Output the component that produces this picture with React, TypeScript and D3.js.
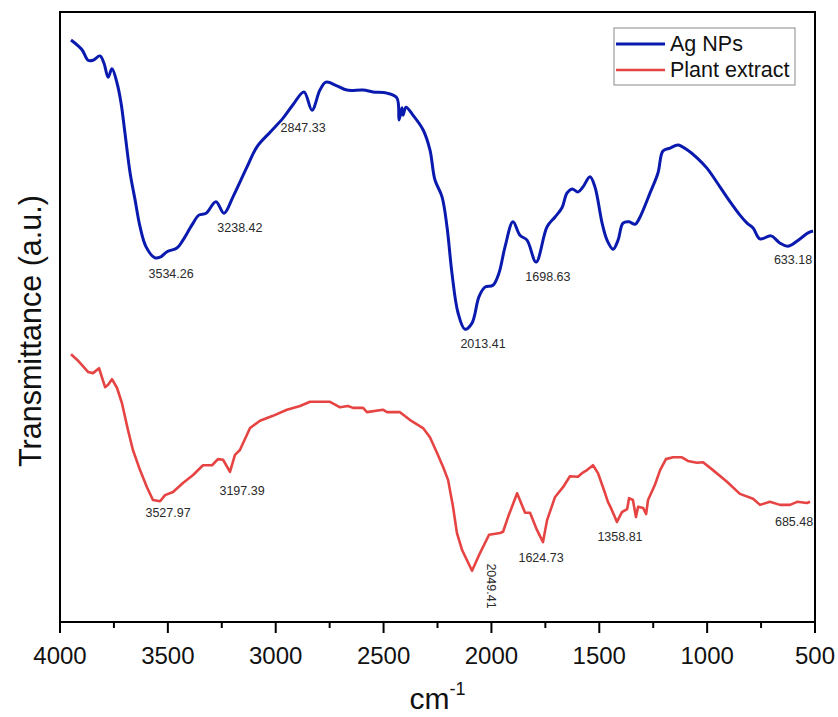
import React from "react";
import * as d3 from "d3";

// Wavenumber (cm-1) and transmittance (a.u.)
const agWave = [3949,3898,3870,3847,3815,3796,3777,3759,3736,3717,3699,3675,3652,3629,3601,3560,3536,3504,3458,3430,3388,3356,3323,3277,3240,3198,3133,3087,3026,2966,2920,2869,2832,2795,2767,2716,2670,2595,2549,2484,2438,2428,2415,2410,2396,2364,2317,2285,2262,2229,2206,2183,2155,2123,2090,2058,2030,1993,1965,1937,1900,1868,1835,1793,1742,1705,1673,1650,1626,1599,1576,1543,1520,1487,1464,1436,1413,1390,1362,1334,1311,1265,1228,1205,1172,1135,1093,1047,1001,940,894,848,815,787,755,704,662,625,570,532,509];
const agValue = [95.4,93.8,92.1,92.1,92.8,91.6,89.3,90.7,88.4,85.1,80.2,73.6,69.2,64.8,61.5,59.7,59.8,60.7,61.3,62.6,65.1,66.7,67.0,68.9,67.0,69.7,74.6,77.9,80.3,82.6,84.8,86.9,83.9,87.2,88.5,87.9,87.2,87.2,86.9,86.7,85.9,82.3,84.3,83.1,84.4,83.1,80.7,77.4,72.5,69.7,64.8,57.2,50.7,48.0,49.0,53.3,54.9,55.2,57.2,61.5,65.6,63.4,62.6,59.0,64.8,66.4,67.9,70.3,71.0,70.5,71.3,73.0,71.3,65.4,62.6,61.1,62.6,65.4,65.6,65.2,66.4,70.3,73.6,77.2,77.7,78.2,77.4,76.1,74.4,71.3,68.9,66.7,65.4,64.6,62.8,63.3,62.1,61.6,62.8,63.8,64.1];

const plantWave = [3949,3921,3898,3870,3847,3819,3791,3777,3759,3736,3713,3685,3662,3629,3597,3569,3536,3513,3476,3430,3383,3337,3295,3268,3244,3212,3189,3166,3119,3073,3013,2948,2887,2841,2748,2702,2665,2642,2595,2577,2503,2484,2424,2377,2317,2285,2252,2224,2201,2178,2160,2136,2090,2053,2011,1960,1946,1923,1881,1844,1821,1789,1761,1742,1705,1668,1636,1599,1580,1557,1529,1506,1473,1460,1446,1418,1395,1371,1362,1344,1330,1320,1297,1283,1274,1242,1218,1191,1158,1117,1089,1047,1019,973,908,848,787,755,709,662,616,583,537,523];
const plantValue = [43.9,43.0,42.1,41.0,40.8,41.6,38.5,38.9,39.8,38.4,35.9,31.5,28.2,24.9,22.1,20.0,19.8,20.8,21.3,22.8,24.1,25.7,25.7,26.7,26.6,24.6,27.4,28.2,31.8,33.0,33.8,34.8,35.4,36.1,36.1,35.2,35.4,35.1,35.1,34.4,34.8,34.4,34.4,33.1,31.8,30.3,27.7,25.4,23.3,18.9,14.6,11.8,8.4,11.3,14.3,14.6,14.8,17.2,21.1,17.9,17.9,15.1,13.1,16.7,20.5,22.1,23.9,23.8,24.4,24.9,25.7,24.4,21.1,19.7,18.7,16.4,18.0,18.5,20.3,20.0,17.2,18.9,18.7,17.7,20.0,22.5,24.9,26.7,27.0,27.0,26.4,26.1,26.2,24.9,23.0,21.0,20.2,19.2,19.7,19.2,19.2,19.7,19.5,19.7];

// Peak annotations: text, position (wavenumber, a.u.)
const agLabels = ["3534.26","3238.42","2847.33","2013.41","1698.63","633.18"];
const agLabelWave = [3485,3166,2873,2039,1738,602];
const agLabelValue = [57.0,64.4,80.8,45.4,56.4,59.3];

const plantLabels = ["3527.97","3197.39","2049.41","1624.73","1358.81","685.48"];
const plantLabelWave = [3499,3156,2007,1770,1404,597];
const plantLabelValue = [17.7,21.3,5.9,10.3,13.9,16.2];
const plantLabelRotated = [false,false,true,false,false,false];

const xTicks = [4000,3500,3000,2500,2000,1500,1000,500];
const xMinorTicks = [3750,3250,2750,2250,1750,1250,750];

const seriesNames = ["Ag NPs","Plant extract"];
const seriesColors = ["#0a1aae","#e64343"];

const W = 838, H = 717;
const M = { left: 60, right: 815, top: 12, bottom: 622 };
const FONT = "'Liberation Sans', Arial, Helvetica, sans-serif";

export default function App() {
  const x = d3.scaleLinear().domain([4000, 500]).range([M.left, M.right]);
  const y = d3.scaleLinear().domain([0, 100]).range([M.bottom, M.bottom - 610]);

  const line = d3
    .line<[number, number]>()
    .x((d) => x(d[0]))
    .y((d) => y(d[1]))
    .curve(d3.curveCatmullRom.alpha(0.5));
  const lineLin = d3
    .line<[number, number]>()
    .x((d) => x(d[0]))
    .y((d) => y(d[1]));

  const agPath = line(agWave.map((w, i) => [w, agValue[i]] as [number, number])) || "";
  const plantPath = lineLin(plantWave.map((w, i) => [w, plantValue[i]] as [number, number])) || "";

  const cx = (M.left + M.right) / 2;

  return (
    <svg
      width={W}
      height={H}
      style={{ position: "absolute", left: 0, top: 0, background: "#fff" }}
      fontFamily={FONT}
    >
      <rect x={0} y={0} width={W} height={H} fill="#fff" />
      <defs>
        <clipPath id="plotclip">
          <rect x={M.left} y={M.top} width={M.right - M.left} height={M.bottom - M.top} />
        </clipPath>
      </defs>

      <g clipPath="url(#plotclip)">
        <path d={agPath} fill="none" stroke={seriesColors[0]} strokeWidth={3} strokeLinejoin="round" />
        <path d={plantPath} fill="none" stroke={seriesColors[1]} strokeWidth={2.6} strokeLinejoin="round" />
      </g>

      {/* annotations */}
      {agLabels.map((t, i) => (
        <text
          key={"a" + t}
          x={x(agLabelWave[i])}
          y={y(agLabelValue[i])}
          fontSize={12.5}
          fill="#2a2a2a"
          textAnchor="middle"
          dominantBaseline="middle"
        >
          {t}
        </text>
      ))}
      {plantLabels.map((t, i) =>
        plantLabelRotated[i] ? (
          <text
            key={"p" + t}
            transform={`translate(${x(plantLabelWave[i])},${y(plantLabelValue[i])}) rotate(90)`}
            fontSize={12.5}
            fill="#2a2a2a"
            textAnchor="middle"
            dominantBaseline="middle"
          >
            {t}
          </text>
        ) : (
          <text
            key={"p" + t}
            x={x(plantLabelWave[i])}
            y={y(plantLabelValue[i])}
            fontSize={12.5}
            fill="#2a2a2a"
            textAnchor="middle"
            dominantBaseline="middle"
          >
            {t}
          </text>
        )
      )}

      {/* frame */}
      <rect
        x={M.left}
        y={M.top}
        width={M.right - M.left}
        height={M.bottom - M.top}
        fill="none"
        stroke="#000"
        strokeWidth={2}
      />

      {/* x ticks */}
      {xTicks.map((t) => (
        <g key={"t" + t}>
          <line x1={x(t)} x2={x(t)} y1={M.bottom} y2={M.bottom + 11} stroke="#000" strokeWidth={2} />
          <text x={x(t)} y={M.bottom + 42} fontSize={24} textAnchor="middle" fill="#111">
            {t}
          </text>
        </g>
      ))}
      {xMinorTicks.map((t) => (
        <line key={"m" + t} x1={x(t)} x2={x(t)} y1={M.bottom} y2={M.bottom + 6} stroke="#000" strokeWidth={2} />
      ))}

      {/* axis titles */}
      <text x={cx} y={709} fontSize={30} textAnchor="middle" fill="#111">
        cm
        <tspan fontSize={18} dy={-14}>-1</tspan>
      </text>
      <text
        transform={`translate(41,${(M.top + M.bottom) / 2 + 14}) rotate(-90)`}
        fontSize={30.5}
        textAnchor="middle"
        fill="#111"
      >
        Transmittance (a.u.)
      </text>

      {/* legend */}
      <rect x={614} y={28} width={181} height={57} fill="#fff" stroke="#8a8a8a" strokeWidth={1} />
      {seriesNames.map((n, i) => (
        <g key={n}>
          <line
            x1={616}
            x2={665}
            y1={44 + i * 26}
            y2={44 + i * 26}
            stroke={seriesColors[i]}
            strokeWidth={i === 0 ? 3 : 2.6}
          />
          <text x={670} y={44 + i * 26} fontSize={21.5} dominantBaseline="central" fill="#111">
            {n}
          </text>
        </g>
      ))}
    </svg>
  );
}
